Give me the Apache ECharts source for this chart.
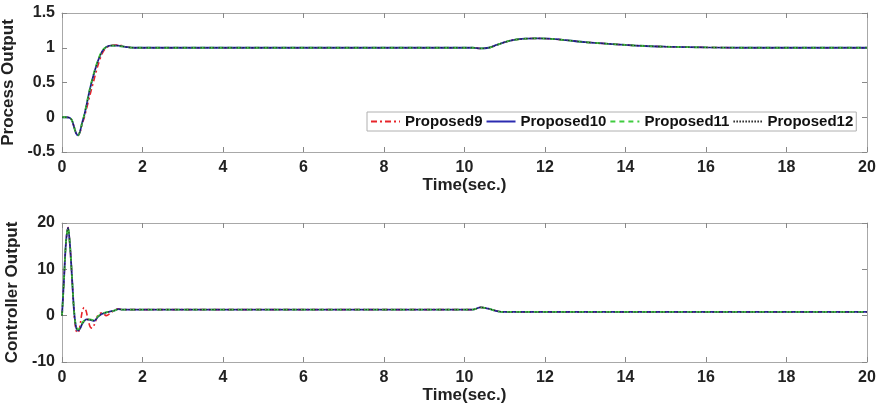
<!DOCTYPE html>
<html>
<head>
<meta charset="utf-8">
<script src="https://cdn.jsdelivr.net/npm/echarts@6/dist/echarts.min.js"></script>
<style>
  html, body { margin: 0; padding: 0; background: #fff; }
  #chart { width: 881px; height: 413px; }
</style>
</head>
<body>
<div id="chart"></div>
<script>
// legend names
const seriesNames = ["Proposed9", "Proposed10", "Proposed11", "Proposed12"];

// process output, [time, value]
const processBase = [
  [0, 0], [0.1, 0], [0.2, -0.01], [0.25, -0.05], [0.3, -0.14], [0.35, -0.23],
  [0.4, -0.26], [0.45, -0.2], [0.5, -0.08], [0.55, 0.02], [0.6, 0.15],
  [0.7, 0.42], [0.8, 0.64], [0.9, 0.82], [1.0, 0.95], [1.1, 1.01],
  [1.2, 1.03], [1.3, 1.03], [1.4, 1.03], [1.5, 1.02], [1.6, 1.01],
  [1.8, 1.0], [2, 1.0], [10.2, 1.0], [10.4, 0.99], [10.6, 1.0], [10.8, 1.04],
  [11, 1.08], [11.2, 1.11], [11.5, 1.13], [11.8, 1.135], [12.1, 1.13],
  [12.5, 1.11], [13, 1.08], [13.5, 1.06], [14, 1.04], [14.5, 1.025],
  [15, 1.015], [16, 1.005], [17, 1.0], [20, 1.0]
];
const processRed = [
  [0, 0], [0.1, 0], [0.2, -0.01], [0.25, -0.05], [0.3, -0.14], [0.35, -0.23],
  [0.4, -0.26], [0.45, -0.21], [0.5, -0.1], [0.55, -0.01], [0.6, 0.1],
  [0.7, 0.33], [0.8, 0.55], [0.9, 0.76], [1.0, 0.92], [1.1, 1.0],
  [1.2, 1.03], [1.3, 1.04], [1.4, 1.04], [1.5, 1.03], [1.6, 1.01],
  [1.8, 1.0], [2, 1.0], [10.2, 1.0], [10.4, 0.99], [10.6, 1.0], [10.8, 1.04],
  [11, 1.08], [11.2, 1.11], [11.5, 1.13], [11.8, 1.135], [12.1, 1.13],
  [12.5, 1.11], [13, 1.08], [13.5, 1.06], [14, 1.04], [14.5, 1.025],
  [15, 1.015], [16, 1.005], [17, 1.0], [20, 1.0]
];
const processGreen = [
  [0, 0], [0.1, 0], [0.2, -0.01], [0.25, -0.05], [0.3, -0.14], [0.35, -0.23],
  [0.4, -0.26], [0.45, -0.2], [0.5, -0.08], [0.55, 0.03], [0.6, 0.16],
  [0.7, 0.43], [0.8, 0.65], [0.9, 0.83], [1.0, 0.96], [1.1, 1.01],
  [1.2, 1.03], [1.3, 1.03], [1.4, 1.02], [1.5, 1.02], [1.6, 1.01],
  [1.8, 1.0], [2, 1.0], [10.2, 1.0], [10.4, 0.99], [10.6, 1.0], [10.8, 1.04],
  [11, 1.08], [11.2, 1.11], [11.5, 1.13], [11.8, 1.135], [12.1, 1.13],
  [12.5, 1.11], [13, 1.08], [13.5, 1.06], [14, 1.04], [14.5, 1.025],
  [15, 1.015], [16, 1.005], [17, 1.0], [20, 1.0]
];

// controller output, [time, value]
const controlBase = [
  [0, 0], [0.05, 8], [0.1, 16], [0.15, 19], [0.2, 15], [0.25, 8], [0.3, 1],
  [0.35, -2.5], [0.4, -3.2], [0.45, -2.8], [0.5, -1.8], [0.55, -1.2],
  [0.6, -0.8], [0.7, -0.9], [0.8, -1.1], [0.9, -0.2], [1.0, 0.4], [1.1, 0.7],
  [1.2, 0.9], [1.3, 1.1], [1.4, 1.4], [1.5, 1.3], [1.7, 1.3], [2, 1.3],
  [10.2, 1.3], [10.4, 1.8], [10.6, 1.5], [10.8, 1.0], [11.0, 0.8], [20, 0.8]
];
const controlRed = [
  [0, 0], [0.05, 8], [0.1, 16], [0.15, 19], [0.2, 15], [0.25, 8], [0.3, 0.5],
  [0.35, -3.2], [0.4, -3.7], [0.45, -2], [0.5, 0.8], [0.55, 1.8],
  [0.6, 1.0], [0.65, -1], [0.7, -2.4], [0.75, -2.7], [0.8, -2], [0.9, 0.2],
  [1.0, 0.6], [1.1, 0.0], [1.2, 0.5], [1.3, 1.2], [1.4, 1.5], [1.5, 1.3],
  [1.7, 1.3], [2, 1.3], [10.2, 1.3], [10.4, 1.8], [10.6, 1.5], [10.8, 1.0],
  [11.0, 0.8], [20, 0.8]
];
const controlGreen = [
  [0, 0], [0.05, 8], [0.1, 16], [0.15, 19], [0.2, 15], [0.25, 8], [0.3, 1],
  [0.35, -2.4], [0.4, -3.0], [0.45, -2.6], [0.5, -1.6], [0.55, -1.1],
  [0.6, -0.8], [0.7, -0.8], [0.8, -1.0], [0.9, -0.1], [1.0, 0.5], [1.1, 0.7],
  [1.2, 0.9], [1.3, 1.1], [1.4, 1.4], [1.5, 1.3], [1.7, 1.3], [2, 1.3],
  [10.2, 1.3], [10.4, 1.8], [10.6, 1.5], [10.8, 1.0], [11.0, 0.8], [20, 0.8]
];

const xTicks = { min: 0, max: 20, interval: 2 };
const topTicks = { min: -0.5, max: 1.5, interval: 0.5 };
const bottomTicks = { min: -10, max: 20, interval: 10 };

const font = "Liberation Sans";
const frameColor = "#a8a8a8";
const lineStyles = [
  { color: "#e8242a", width: 1.6, type: [6, 3, 2, 3] },
  { color: "#2b2bb0", width: 1.8, type: "solid" },
  { color: "#3fcc3f", width: 1.8, type: [5, 4] },
  { color: "#222222", width: 1, type: [1.5, 1.5] }
];

function xAxisFor(gridIndex, withLabels) {
  return {
    type: "value",
    gridIndex,
    min: xTicks.min,
    max: xTicks.max,
    interval: xTicks.interval,
    position: withLabels ? "bottom" : "top",
    name: withLabels ? "Time(sec.)" : "",
    nameLocation: "middle",
    nameGap: 23,
    nameTextStyle: { fontFamily: font, fontWeight: "bold", fontSize: 17, color: "#222" },
    axisLine: { onZero: false, lineStyle: { color: frameColor } },
    axisTick: { inside: true, length: 5, lineStyle: { color: "#888" } },
    axisLabel: {
      show: withLabels, margin: 8,
      fontFamily: font, fontWeight: "bold", fontSize: 16, color: "#222"
    },
    splitLine: { show: false }
  };
}

function yAxisFor(gridIndex, ticks, name, withLabels) {
  return {
    type: "value",
    gridIndex,
    min: ticks.min,
    max: ticks.max,
    interval: ticks.interval,
    position: withLabels ? "left" : "right",
    name: withLabels ? name : "",
    nameLocation: "middle",
    nameGap: 38,
    nameTextStyle: { fontFamily: font, fontWeight: "bold", fontSize: 17, color: "#222" },
    axisLine: { onZero: false, lineStyle: { color: frameColor } },
    axisTick: { inside: true, length: 5, lineStyle: { color: "#888" } },
    axisLabel: {
      show: withLabels, margin: 7,
      fontFamily: font, fontWeight: "bold", fontSize: 16, color: "#222"
    },
    splitLine: { show: false }
  };
}

function makeSeries(data, idx, xAxisIndex, yAxisIndex) {
  return {
    name: seriesNames[idx],
    type: "line",
    xAxisIndex,
    yAxisIndex,
    data,
    smooth: 0.3,
    showSymbol: false,
    symbol: "none",
    lineStyle: lineStyles[idx],
    itemStyle: { color: lineStyles[idx].color },
    animation: false
  };
}

const chart = echarts.init(document.getElementById("chart"));
chart.setOption({
  backgroundColor: "#fff",
  animation: false,
  grid: [
    { left: 62, right: 14, top: 13, height: 139, outerBoundsMode: "none" },
    { left: 62, right: 14, top: 223, height: 139, outerBoundsMode: "none" }
  ],
  legend: {
    data: seriesNames,
    left: 367,
    top: 112,
    orient: "horizontal",
    itemWidth: 29,
    itemHeight: 14,
    itemGap: 3,
    padding: [2, 3, 2, 3],
    backgroundColor: "#fff",
    borderColor: "#b0b0b0",
    borderWidth: 1,
    borderRadius: 0,
    itemStyle: { opacity: 0, borderWidth: 0 },
    textStyle: { fontFamily: font, fontWeight: "bold", fontSize: 15, color: "#111" }
  },
  xAxis: [
    xAxisFor(0, true), xAxisFor(0, false),
    xAxisFor(1, true), xAxisFor(1, false)
  ],
  yAxis: [
    yAxisFor(0, topTicks, "Process Output", true), yAxisFor(0, topTicks, "", false),
    yAxisFor(1, bottomTicks, "Controller Output", true), yAxisFor(1, bottomTicks, "", false)
  ],
  series: [
    makeSeries(processRed, 0, 0, 0),
    makeSeries(processBase, 1, 0, 0),
    makeSeries(processGreen, 2, 0, 0),
    makeSeries(processBase, 3, 0, 0),
    makeSeries(controlRed, 0, 2, 2),
    makeSeries(controlBase, 1, 2, 2),
    makeSeries(controlGreen, 2, 2, 2),
    makeSeries(controlBase, 3, 2, 2)
  ]
});
</script>
</body>
</html>
